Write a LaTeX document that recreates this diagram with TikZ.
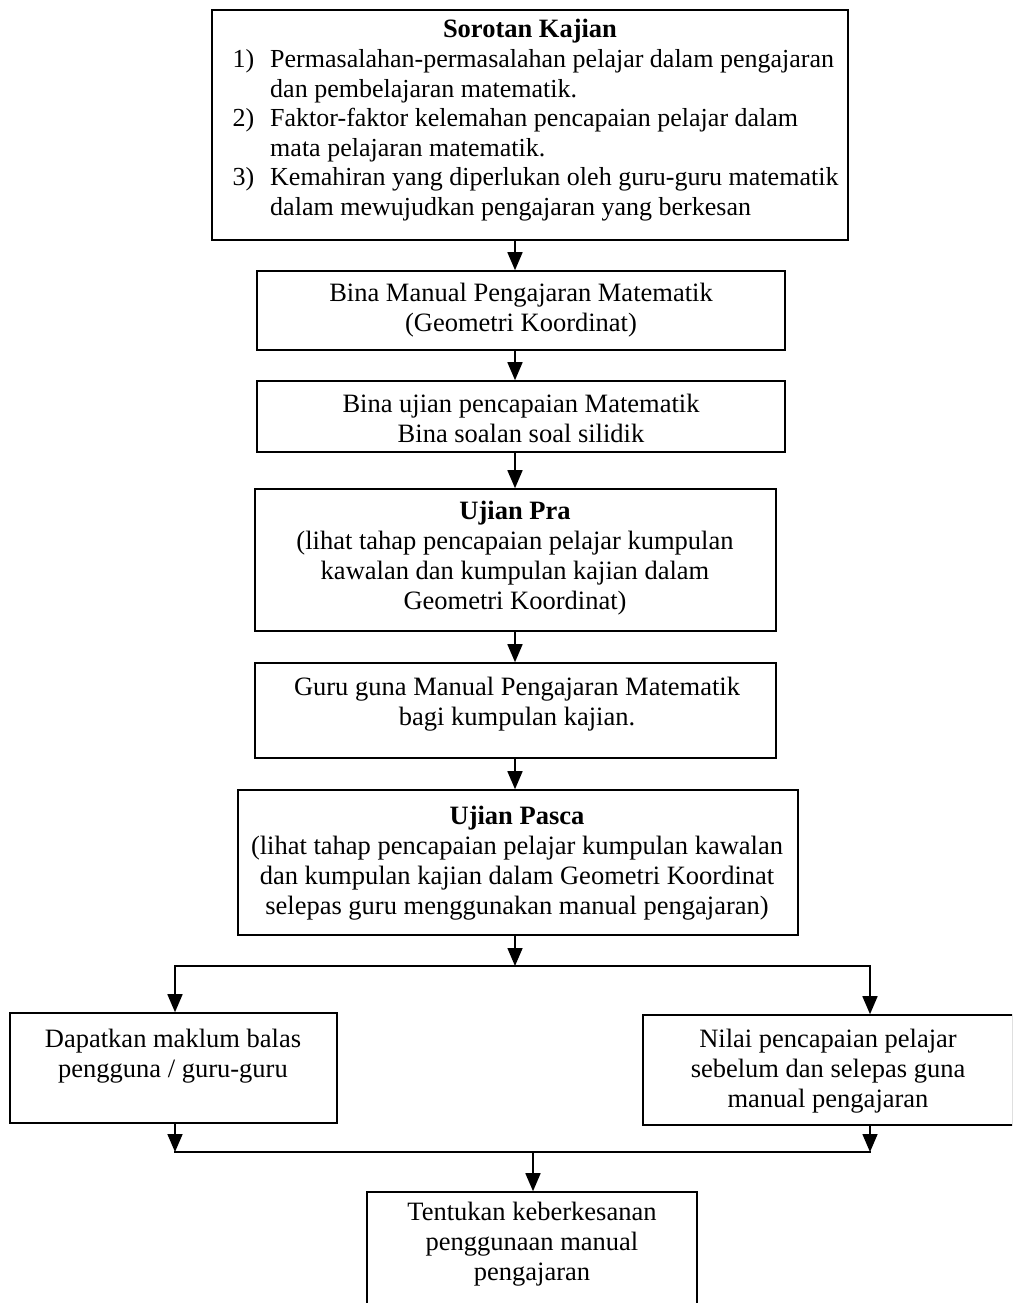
\documentclass[tikz,border=0pt]{standalone}
\usepackage{fontspec}
\setmainfont{Liberation Serif}
\usetikzlibrary{arrows.meta}
\begin{document}
\begin{tikzpicture}[x=1pt,y=-1pt,
  frame/.style={draw=black, line width=1.6pt, inner sep=0pt},
  txt/.style={align=center, inner sep=0pt, anchor=north, font=\fontsize{26.5}{30}\selectfont},
  arr/.style={line width=1.6pt, -{Triangle[length=18pt,width=15pt]}},
  conn/.style={line width=1.6pt, line cap=rect}]
\path[use as bounding box, clip] (0,0) rectangle (1012,1303);
\fill[white] (0,0) rectangle (1012,1303);

% boxes
\node[frame, minimum width=636pt, minimum height=230pt] (b1) at (530,125) {};
\node[frame, minimum width=528pt, minimum height=79pt]  (b2) at (521,310.5) {};
\node[frame, minimum width=528pt, minimum height=71pt]  (b3) at (521,416.5) {};
\node[frame, minimum width=521pt, minimum height=142pt] (b4) at (515.5,560) {};
\node[frame, minimum width=521pt, minimum height=95pt]  (b5) at (515.5,710.5) {};
\node[frame, minimum width=560pt, minimum height=145pt] (b6) at (518,862.5) {};
\node[frame, minimum width=327pt, minimum height=110pt] (b7) at (173.5,1068) {};
\node[frame, minimum width=370pt, minimum height=110pt] (b8) at (828,1070) {};
\node[frame, minimum width=330pt, minimum height=138pt] (b9) at (532,1261) {};

% texts
\node[txt] (t1) at (530,19) {\textbf{Sorotan Kajian}\\
  \hspace*{11pt}{\fontsize{26}{29.5}\selectfont\begin{tabular}[t]{@{}l@{\hspace{16pt}}l@{}}
  1) & Permasalahan-permasalahan pelajar dalam pengajaran\\
     & dan pembelajaran matematik.\\
  2) & Faktor-faktor kelemahan pencapaian pelajar dalam\\
     & mata pelajaran matematik.\\
  3) & Kemahiran yang diperlukan oleh guru-guru matematik\\
     & dalam mewujudkan pengajaran yang berkesan
  \end{tabular}}};
\node[txt] (t2) at (521,283) {Bina Manual Pengajaran Matematik\\(Geometri Koordinat)};
\node[txt] (t3) at (521,394) {Bina ujian pencapaian Matematik\\Bina soalan soal silidik};
\node[txt] (t4) at (515,501) {\textbf{Ujian Pra}\\(lihat tahap pencapaian pelajar kumpulan\\kawalan dan kumpulan kajian dalam\\Geometri Koordinat)};
\node[txt] (t5) at (517,677) {Guru guna Manual Pengajaran Matematik\\bagi kumpulan kajian.};
\node[txt] (t6) at (517,806) {\textbf{Ujian Pasca}\\(lihat tahap pencapaian pelajar kumpulan kawalan\\dan kumpulan kajian dalam Geometri Koordinat\\selepas guru menggunakan manual pengajaran)};
\node[txt] (t7) at (173,1029) {Dapatkan maklum balas\\pengguna / guru-guru};
\node[txt] (t8) at (828,1029) {Nilai pencapaian pelajar\\sebelum dan selepas guna\\manual pengajaran};
\node[txt] (t9) at (532,1202) {Tentukan keberkesanan\\penggunaan manual\\pengajaran};

% connectors
\coordinate (ax) at (515,0);
\coordinate (lx) at (175,0);
\coordinate (rx) at (870,0);
\coordinate (split) at (515,966);
\coordinate (merge) at (533,1152);
\draw[arr] (ax |- b1.south) -- (ax |- b2.north);
\draw[arr] (ax |- b2.south) -- (ax |- b3.north);
\draw[arr] (ax |- b3.south) -- (ax |- b4.north);
\draw[arr] (ax |- b4.south) -- (ax |- b5.north);
\draw[arr] (ax |- b5.south) -- (ax |- b6.north);
\draw[arr] (ax |- b6.south) -- (split);
\draw[conn] (lx |- split) -- (rx |- split);
\draw[arr] (lx |- split) -- (lx |- b7.north);
\draw[arr] (rx |- split) -- (rx |- b8.north);
\draw[arr] (lx |- b7.south) -- (lx |- merge);
\draw[arr] (rx |- b8.south) -- (rx |- merge);
\draw[conn] (lx |- merge) -- (rx |- merge);
\draw[arr] (merge) -- (merge |- b9.north);
\end{tikzpicture}
\end{document}
